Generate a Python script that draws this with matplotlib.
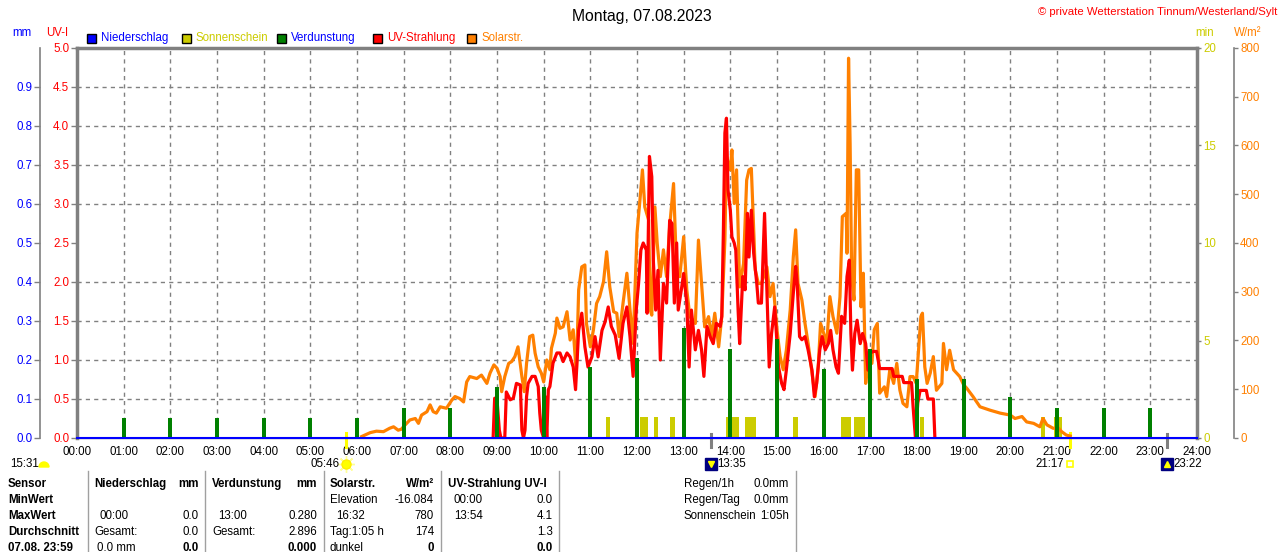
import matplotlib
matplotlib.use("Agg")
import matplotlib.pyplot as plt
from matplotlib.patches import Rectangle, Wedge
from matplotlib.lines import Line2D
from matplotlib.transforms import blended_transform_factory, offset_copy, IdentityTransform
import numpy as np

plt.rcParams['font.family'] = ['Liberation Sans', 'DejaVu Sans']

# ---------------- data ----------------
hours = list(range(25))
hour_labels = [f"{h:02d}:00" for h in hours]

# Solar radiation: minute of day, W/m2
solar_min = [366, 377, 385, 394, 402, 407, 413, 417, 422, 428, 435, 439, 443, 450, 454, 458, 462, 467, 475, 482,
             486, 492, 497, 501, 505, 514, 520, 527, 531, 536, 540, 544, 546, 550, 555, 559, 563, 567, 572, 575,
             578, 582, 586, 589, 593, 597, 600, 604, 608, 610, 615, 617, 621, 625, 630, 634, 638, 642, 645, 649,
             653, 655, 660, 664, 668, 672, 677, 681, 685, 690, 694, 697, 702, 707, 711, 715, 720, 724, 727, 730,
             735, 737, 739, 743, 746, 750, 754, 758, 762, 767, 771, 775, 780, 784, 788, 795, 799, 803, 807, 812,
             816, 820, 825, 829, 833, 835, 840, 842, 845, 848, 852, 857, 861, 864, 867, 872, 876, 880, 887, 891,
             895, 900, 904, 908, 912, 917, 921, 924, 927, 932, 936, 940, 945, 949, 953, 956, 960, 964, 968, 972,
             977, 981, 984, 989, 990, 992, 994, 996, 999, 1002, 1005, 1008, 1011, 1014, 1017, 1022, 1025, 1029, 1032, 1038,
             1041, 1045, 1050, 1054, 1058, 1062, 1067, 1071, 1075, 1079, 1082, 1085, 1087, 1090, 1093, 1097, 1101, 1105, 1112, 1114,
             1118, 1122, 1127, 1131, 1135, 1140, 1144, 1152, 1161, 1174, 1187, 1200, 1206, 1215, 1221, 1230, 1238, 1242, 1247, 1255,
             1262, 1266, 1272, 1277]
solar_wm2 = [3, 11, 14, 13, 20, 23, 16, 18, 27, 37, 40, 30, 47, 54, 68, 54, 51, 64, 61, 78,
             85, 81, 74, 115, 126, 122, 129, 112, 133, 150, 143, 126, 95, 126, 153, 157, 167, 187, 126, 95,
             153, 208, 211, 174, 146, 133, 115, 160, 140, 184, 215, 246, 225, 228, 259, 201, 222, 133, 304, 351,
             355, 235, 187, 222, 276, 290, 321, 382, 310, 259, 256, 208, 276, 338, 263, 194, 420, 492, 550, 474,
             447, 263, 252, 474, 399, 331, 386, 331, 434, 522, 338, 331, 413, 304, 249, 235, 406, 317, 228, 249,
             208, 256, 187, 249, 406, 577, 550, 591, 481, 550, 310, 358, 529, 550, 553, 345, 317, 317, 351, 290,
             317, 222, 167, 140, 180, 263, 372, 427, 317, 283, 235, 194, 133, 85, 146, 235, 215, 194, 290, 249,
             215, 290, 454, 461, 379, 779, 604, 331, 283, 550, 550, 269, 338, 112, 160, 153, 222, 235, 92, 105,
             85, 140, 112, 153, 98, 71, 64, 126, 126, 112, 180, 249, 256, 146, 112, 133, 167, 98, 112, 194,
             140, 180, 140, 133, 126, 109, 102, 85, 64, 57, 51, 47, 40, 44, 33, 30, 23, 40, 27, 20,
             20, 13, 6, 4]

# UV index: minute of day, UV-I
uv_min = [535, 537, 540, 543, 545, 550, 552, 557, 561, 565, 570, 572, 574, 576, 578, 580, 585, 589, 593, 595,
          597, 600, 602, 604, 606, 608, 612, 617, 621, 625, 630, 634, 638, 641, 645, 649, 653, 657, 662, 666,
          670, 675, 679, 683, 687, 692, 697, 702, 707, 711, 715, 719, 722, 725, 728, 732, 733, 736, 739, 741,
          744, 747, 750, 754, 758, 762, 765, 768, 771, 773, 777, 780, 784, 787, 790, 795, 799, 803, 806, 810,
          814, 818, 822, 827, 829, 831, 833, 835, 837, 840, 842, 845, 847, 850, 852, 856, 859, 862, 864, 867,
          870, 874, 876, 880, 884, 887, 890, 893, 897, 902, 906, 909, 912, 917, 921, 924, 926, 929, 932, 936,
          940, 945, 948, 951, 955, 958, 962, 966, 969, 972, 976, 979, 983, 987, 990, 993, 995, 997, 1000, 1003,
          1007, 1010, 1014, 1017, 1020, 1024, 1028, 1032, 1048, 1050, 1061, 1063, 1073, 1075, 1078, 1081, 1084, 1092, 1094, 1101,
          1103]
uv_idx = [0.0, 0.51, 0.49, 0.10, 0.0, 0.0, 0.59, 0.49, 0.51, 0.70, 0.68, 0.10, 0.0, 0.10, 0.53, 0.70, 0.79, 0.79, 0.66, 0.32,
          0.10, 0.0, 0.53, 0.0, 0.62, 0.66, 0.96, 1.09, 1.09, 0.98, 1.09, 1.04, 0.91, 0.62, 1.38, 1.60, 1.17, 0.91, 1.04, 1.30,
          1.04, 1.38, 1.49, 1.68, 1.43, 1.32, 1.02, 1.47, 1.68, 1.30, 0.79, 1.64, 1.98, 2.41, 2.50, 2.41, 1.60, 3.61, 3.35, 2.28,
          1.64, 2.15, 1.00, 1.98, 1.73, 2.79, 2.75, 1.73, 2.50, 1.64, 1.90, 2.11, 1.73, 0.91, 1.64, 1.13, 1.38, 1.13, 0.79, 1.43,
          1.30, 1.21, 1.47, 1.43, 1.56, 2.62, 3.91, 4.10, 3.18, 2.92, 2.58, 2.50, 2.41, 1.64, 1.21, 2.07, 1.90, 2.88, 2.32, 2.92,
          2.37, 1.98, 1.73, 1.73, 2.88, 1.90, 0.91, 1.34, 1.68, 0.91, 0.70, 0.62, 0.87, 1.34, 1.86, 2.20, 1.98, 1.30, 1.26, 1.30,
          1.13, 0.87, 0.53, 0.70, 1.13, 1.30, 1.13, 1.21, 1.38, 1.13, 0.91, 0.83, 1.56, 1.47, 2.07, 2.28, 1.34, 0.87, 1.34, 1.51,
          1.21, 1.34, 1.21, 0.87, 1.09, 1.11, 1.11, 0.89, 0.89, 0.79, 0.79, 0.71, 0.71, 0.40, 0.0, 0.45, 0.61, 0.61, 0.50, 0.50,
          0.0]

# Evaporation per hour (mm)
evap_hours = list(range(1, 24))
evap_mm = [0.052, 0.052, 0.052, 0.052, 0.052, 0.052, 0.078, 0.078, 0.13, 0.13, 0.183, 0.204, 0.281,
           0.229, 0.255, 0.177, 0.228, 0.152, 0.151, 0.104, 0.078, 0.078, 0.078]

# Precipitation (mm) - none
rain_mm = [0.0] * 25

# Sunshine intervals (start, end as minute of day) and value (min)
sun_start = [680, 724, 742, 762, 834, 859, 921, 982, 999, 1084, 1239, 1256]
sun_end = [685, 734, 747, 769, 851, 873, 927, 995, 1013, 1089, 1245, 1266]
sun_value = 1.1

# Astronomical events
sunrise, sunset = "05:46", "21:17"
moon_down, moon_up = "13:35", "23:22"

# ---------------- style ----------------
BLU, YEL, GRN, RED, ORA = '#0000ff', '#cccc00', '#008000', '#ff0000', '#ff8000'
GRAY = '#808080'
FS = 8.3

W, H = 1280, 552
fig = plt.figure(figsize=(W / 100, H / 100), dpi=100)
L, R, T, B = 77, 1197, 48, 438
ax = fig.add_axes([L / W, 1 - B / H, (R - L) / W, (B - T) / H])
ax.set_xlim(0, 24)
ax.set_ylim(0, 20)

def hm(s):
    h, m = s.split(':')
    return int(h) + int(m) / 60.0

# create twin axes first (twinx resets the base y-axis side)
ax_sol = ax.twinx()
ax_uv = ax.twinx()
ax_mm = ax.twinx()

# grid + min axis (right)
ax.set_xticks(hours)
ax.set_xticklabels(hour_labels, fontsize=FS)
ax.yaxis.tick_right()
ax.yaxis.set_label_position('right')
ax.set_yticks([0, 5, 10, 15, 20])
ax.set_yticklabels(['0', '5', '10', '15', '20'])
ax.set_yticks(np.arange(2, 20, 2), minor=True)
ax.grid(axis='x', which='major', color=GRAY, ls=(0, (3, 3)), lw=1)
ax.grid(axis='y', which='minor', color=GRAY, ls=(0, (3, 3)), lw=1)
ax.tick_params(axis='x', length=0, pad=5.5)
ax.tick_params(axis='y', which='major', direction='out', length=3, width=1, color=GRAY,
               labelcolor=YEL, labelsize=FS, pad=1.5, left=False, labelleft=False,
               right=True, labelright=True)
ax.tick_params(axis='y', which='minor', length=0, left=False, right=False)
for s in ['left', 'top', 'right']:
    ax.spines[s].set_color(GRAY)
    ax.spines[s].set_linewidth(2.5)
ax.spines['bottom'].set_color(GRAY)
ax.spines['bottom'].set_linewidth(1)

# solar axis
ax_sol.set_ylim(0, 800)
ax_sol.set_yticks(range(0, 801, 100))
for s in ['left', 'top', 'bottom']:
    ax_sol.spines[s].set_visible(False)
ax_sol.spines['right'].set_position(('outward', 37 * 0.72))
ax_sol.spines['right'].set_color(GRAY)
ax_sol.spines['right'].set_linewidth(1.2)
ax_sol.tick_params(axis='y', direction='out', length=3, width=1, color=GRAY,
                   labelcolor=ORA, labelsize=FS, pad=1.5)

# UV axis (left)
ax_uv.set_ylim(0, 5)
uv_ticks = np.arange(0, 5.01, 0.5)
ax_uv.yaxis.tick_left()
ax_uv.set_yticks(uv_ticks)
ax_uv.set_yticklabels([f"{v:.1f}" for v in uv_ticks])
for s in ax_uv.spines.values():
    s.set_visible(False)
ax_uv.tick_params(axis='y', direction='out', length=4, width=1, color=GRAY,
                  labelcolor=RED, labelsize=FS, pad=1.5)

# mm axis (far left)
ax_mm.set_ylim(0, 1.0)
mm_ticks = np.arange(0, 0.91, 0.1)
ax_mm.yaxis.tick_left()
ax_mm.set_yticks(mm_ticks)
ax_mm.set_yticklabels([f"{v:.1f}" for v in mm_ticks])
for s in ['right', 'top', 'bottom']:
    ax_mm.spines[s].set_visible(False)
ax_mm.spines['left'].set_position(('outward', 37 * 0.72))
ax_mm.spines['left'].set_color(GRAY)
ax_mm.spines['left'].set_linewidth(1.2)
ax_mm.tick_params(axis='y', direction='out', length=4, width=1, color=GRAY,
                  labelcolor=BLU, labelsize=FS, pad=1.5)

ax.set_zorder(1)
ax_sol.set_zorder(2)
ax_uv.set_zorder(3)
ax_mm.set_zorder(4)

# ---------------- data marks ----------------
sun_left = [m / 60 for m in sun_start]
sun_w = [(e - s) / 60 for s, e in zip(sun_start, sun_end)]
ax.bar(sun_left, [sun_value] * len(sun_left), width=sun_w, align='edge', color=YEL, zorder=3)

ax_sol.plot([m / 60 for m in solar_min], solar_wm2, color=ORA, lw=2.3)
ax_uv.plot([m / 60 for m in uv_min], uv_idx, color=RED, lw=2.3)
ax_mm.bar(evap_hours, evap_mm, width=0.08, color=GRN)
ax_mm.plot(hours, rain_mm, color=BLU, lw=1.5, clip_on=False)

# ---------------- astronomical markers below axis ----------------
trans = blended_transform_factory(ax.transData, ax.transAxes)
def yax(py):
    return (B - py) / (B - T)

for t in (sunrise, sunset):
    ax.plot([hm(t)] * 2, [yax(433), yax(447)], color='#ffff00', lw=2.2, transform=trans, clip_on=False)
for t in (moon_down, moon_up):
    ax.plot([hm(t)] * 2, [yax(434), yax(447)], color=GRAY, lw=2.2, transform=trans, clip_on=False)

ty = yax(464)
# sunrise icon + label
ax.plot([hm(sunrise)], [ty], marker=(8, 2, 0), ms=12, mec='#ffff99', mew=1, transform=trans, clip_on=False)
ax.plot([hm(sunrise)], [ty], marker='o', ms=6.5, color='#ffff00', mec='#ffee00', transform=trans, clip_on=False)
ax.text(hm(sunrise), ty, sunrise, ha='right', va='center', fontsize=FS,
        transform=offset_copy(trans, fig=fig, x=-6, y=0, units='dots'))
# sunset icon + label
ax.plot([hm(sunset)], [ty], marker='s', ms=5, mfc='white', mec='#ffff00', mew=1.2, transform=trans, clip_on=False)
ax.text(hm(sunset), ty, sunset, ha='right', va='center', fontsize=FS,
        transform=offset_copy(trans, fig=fig, x=-6, y=0, units='dots'))
# moon events
for t, mk in ((moon_down, 'v'), (moon_up, '^')):
    ax.plot([hm(t)], [ty], marker='s', ms=8, color='#000080', transform=trans, clip_on=False)
    ax.plot([hm(t)], [ty], marker=mk, ms=4, color='#ffff00', transform=trans, clip_on=False)
    ax.text(hm(t), ty, t, ha='left', va='center', fontsize=FS,
            transform=offset_copy(trans, fig=fig, x=6, y=0, units='dots'))

# ---------------- header texts ----------------
def ftx(x, y, s, **kw):
    kw.setdefault('fontsize', FS)
    kw.setdefault('va', 'center')
    fig.text(x / W, 1 - y / H, s, **kw)

ftx(642, 16, 'Montag, 07.08.2023', ha='center', fontsize=11.3)
ftx(1277, 12, '© private Wetterstation Tinnum/Westerland/Sylt', ha='right', color=RED, fontsize=8.2)
ftx(22, 33, 'mm', ha='center', color=BLU)
ftx(57, 33, 'UV-I', ha='center', color=RED)
ftx(1205, 33, 'min', ha='center', color=YEL)
ftx(1248, 33, 'W/m²', ha='center', color=ORA)

legend = [(87, BLU, 'Niederschlag', BLU), (182, YEL, 'Sonnenschein', YEL), (277, GRN, 'Verdunstung', BLU),
          (373, RED, 'UV-Strahlung', RED), (467, ORA, 'Solarstr.', ORA)]
for x, c, label, tc in legend:
    fig.patches.append(Rectangle((x / W, 1 - 43 / H), 9 / W, 9 / H, facecolor=c, edgecolor='black',
                                 lw=1, transform=fig.transFigure, figure=fig))
    ftx(x + 14, 38, label, ha='left', color=tc)

# moon phase at left
ftx(10, 464, '15:31', ha='left')
fig.patches.append(Wedge((44, H - 467), 5, 0, 180, color='#ffff00', transform=IdentityTransform(), figure=fig))

# ---------------- table ----------------
for x in (88, 205, 324, 441, 559, 796):
    fig.add_artist(Line2D([x / W, x / W], [1 - 471 / H, 0], color='#a0a0a0', lw=1))

table = [
    (8, 484, 'Sensor', 'left', True), (94, 484, 'Niederschlag', 'left', True), (199, 484, 'mm', 'right', True),
    (212, 484, 'Verdunstung', 'left', True), (317, 484, 'mm', 'right', True),
    (330, 484, 'Solarstr.', 'left', True), (434, 484, 'W/m²', 'right', True),
    (448, 484, 'UV-Strahlung UV-I', 'left', True),
    (684, 484, 'Regen/1h', 'left', False), (789, 484, '0.0mm', 'right', False),
    (8, 500, 'MinWert', 'left', True), (330, 500, 'Elevation', 'left', False), (434, 500, '-16.084', 'right', False),
    (454, 500, '00:00', 'left', False), (553, 500, '0.0', 'right', False),
    (684, 500, 'Regen/Tag', 'left', False), (789, 500, '0.0mm', 'right', False),
    (8, 516, 'MaxWert', 'left', True), (100, 516, '00:00', 'left', False), (199, 516, '0.0', 'right', False),
    (218, 516, '13:00', 'left', False), (317, 516, '0.280', 'right', False),
    (336, 516, '16:32', 'left', False), (434, 516, '780', 'right', False),
    (454, 516, '13:54', 'left', False), (553, 516, '4.1', 'right', False),
    (684, 516, 'Sonnenschein', 'left', False), (789, 516, '1:05h', 'right', False),
    (8, 532, 'Durchschnitt', 'left', True), (94, 532, 'Gesamt:', 'left', False), (199, 532, '0.0', 'right', False),
    (212, 532, 'Gesamt:', 'left', False), (317, 532, '2.896', 'right', False),
    (330, 532, 'Tag:1:05 h', 'left', False), (434, 532, '174', 'right', False), (553, 532, '1.3', 'right', False),
    (8, 548, '07.08. 23:59', 'left', True), (97, 548, '0.0 mm', 'left', False), (199, 548, '0.0', 'right', True),
    (317, 548, '0.000', 'right', True), (330, 548, 'dunkel', 'left', False), (434, 548, '0', 'right', True),
    (553, 548, '0.0', 'right', True),
]
for x, y, s, ha, bold in table:
    ftx(x, y, s, ha=ha, fontweight='bold' if bold else 'normal')

fig.savefig('out.png', dpi=100)
